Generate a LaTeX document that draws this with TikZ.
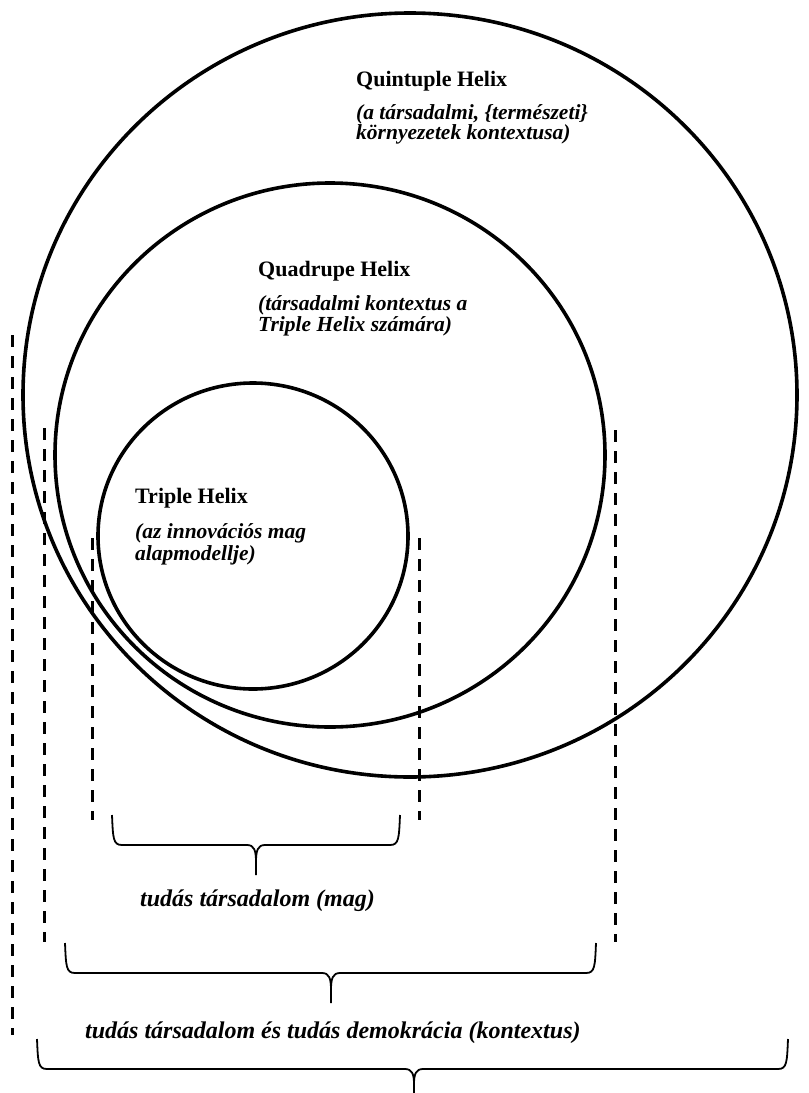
\documentclass[tikz,border=0pt]{standalone}
\usepackage{fontspec}
\setmainfont{Liberation Serif}
\begin{document}
\begin{tikzpicture}[x=1pt,y=-1pt,
  ring/.style={line width=3.6pt},
  dline/.style={line width=3pt,dash pattern=on 12pt off 9pt},
  bracepath/.style={line width=1.8pt,line join=round},
  head/.style={anchor=base west,inner sep=0pt,font=\fontsize{22}{24}\selectfont\bfseries},
  sub/.style={anchor=base west,inner sep=0pt,font=\fontsize{21.5}{23}\selectfont\bfseries\itshape},
  lab/.style={anchor=base west,inner sep=0pt,font=\fontsize{24}{26}\selectfont\bfseries\itshape}]
\useasboundingbox (0,0) rectangle (809,1093);
\fill[white] (0,0) rectangle (809,1093);
% ellipses
\coordinate (c5) at (410,395);
\coordinate (c4) at (330,455);
\coordinate (c3) at (253,536);
\draw[ring] (c5) ellipse [x radius=387, y radius=382];
\draw[ring] (c4) ellipse [x radius=275, y radius=272];
\draw[ring] (c3) ellipse [x radius=155, y radius=153];
% texts
\node[head] (q5) at (356,86) {Quintuple Helix};
\node[sub] (q5a) at (356,119) {(a társadalmi, \{természeti\}};
\node[sub] (q5b) at (356,139) {környezetek kontextusa)};
\node[head] (q4) at (258,276) {Quadrupe Helix};
\node[sub] (q4a) at (258,310) {(társadalmi kontextus a};
\node[sub] (q4b) at (258,331) {Triple Helix számára)};
\node[head] (q3) at (135,503) {Triple Helix};
\node[sub] (q3a) at (135,538) {(az innovációs mag};
\node[sub] (q3b) at (135,560) {alapmodellje)};
% dashed lines
\coordinate (d1t) at (12,335);  \coordinate (d1b) at (12,1035);
\coordinate (d2t) at (44,428);  \coordinate (d2b) at (44,942);
\coordinate (d3t) at (92,538);  \coordinate (d3b) at (92,820);
\coordinate (d4t) at (419,538); \coordinate (d4b) at (419,820);
\coordinate (d5t) at (615,430); \coordinate (d5b) at (615,942);
\draw[dline] (d1t) -- (d1b);
\draw[dline] (d2t) -- (d2b);
\draw[dline] (d3t) -- (d3b);
\draw[dline] (d4t) -- (d4b);
\draw[dline] (d5t) -- (d5b);
% braces
\coordinate (b1l) at (112,815); \coordinate (b1r) at (400,815); \coordinate (b1tip) at (256,875);
\draw[bracepath] (b1l) .. controls (113,838) and (113,845) .. (122,845) -- (247,845)
  .. controls (254,845) and (256,850) .. (256,862) -- (b1tip);
\draw[bracepath] (b1r) .. controls (399,838) and (399,845) .. (390,845) -- (265,845)
  .. controls (258,845) and (256,850) .. (256,862);
\coordinate (b2l) at (65,943); \coordinate (b2r) at (596,943); \coordinate (b2tip) at (331,1003);
\draw[bracepath] (b2l) .. controls (66,966) and (66,973) .. (75,973) -- (322,973)
  .. controls (329,973) and (331,978) .. (331,990) -- (b2tip);
\draw[bracepath] (b2r) .. controls (595,966) and (595,973) .. (586,973) -- (340,973)
  .. controls (333,973) and (331,978) .. (331,990);
\coordinate (b3l) at (37,1039); \coordinate (b3r) at (788,1039); \coordinate (b3tip) at (414,1093);
\draw[bracepath] (b3l) .. controls (38,1062) and (38,1069) .. (47,1069) -- (405,1069)
  .. controls (412,1069) and (414,1074) .. (414,1084) -- (b3tip);
\draw[bracepath] (b3r) .. controls (787,1062) and (787,1069) .. (778,1069) -- (423,1069)
  .. controls (416,1069) and (414,1074) .. (414,1084);
\node[lab] (l1) at (140,906) {tudás társadalom (mag)};
\node[lab] (l2) at (85,1038) {tudás társadalom és tudás demokrácia (kontextus)};
\end{tikzpicture}
\end{document}
